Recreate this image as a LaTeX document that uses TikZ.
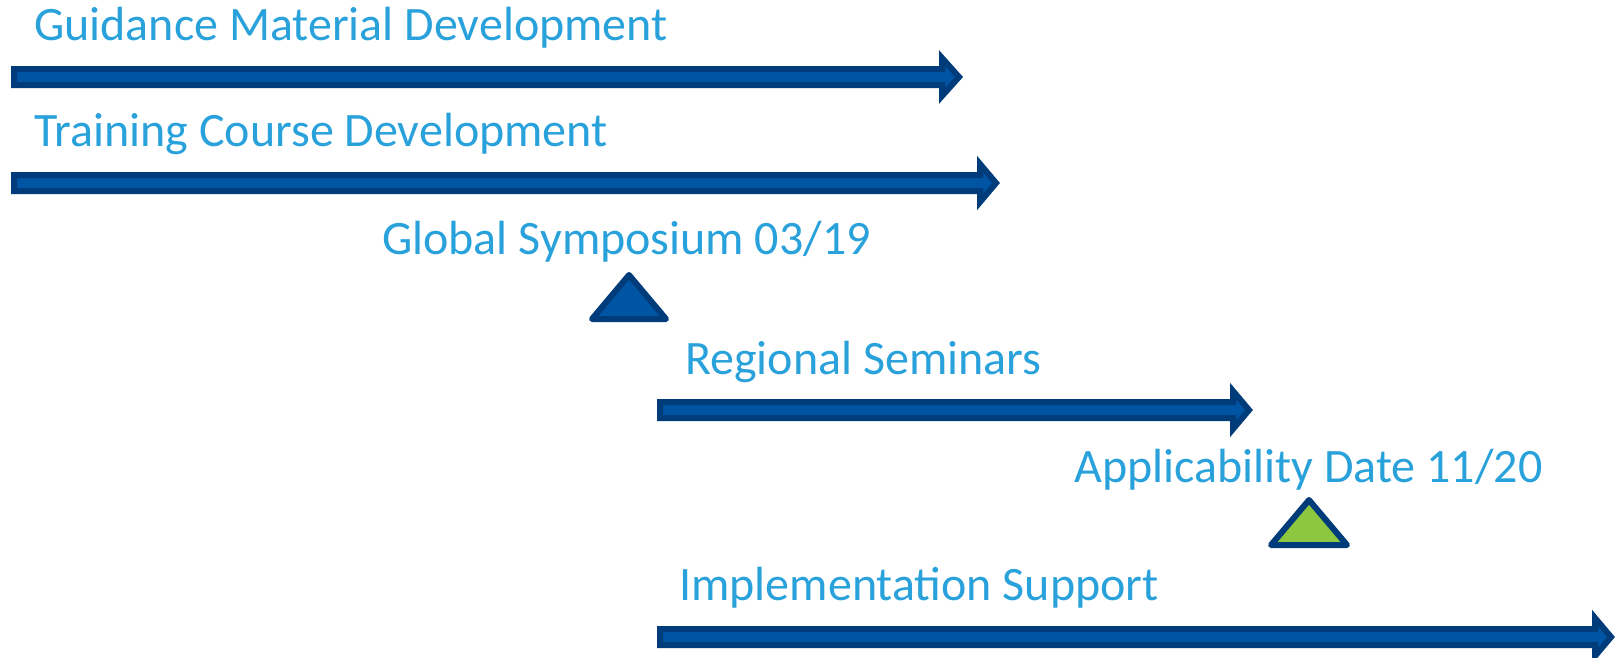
\documentclass[tikz,border=0pt]{standalone}
\usepackage{fontspec}
\setmainfont{Carlito}
\definecolor{lbl}{HTML}{29A1DB}
\definecolor{arrfill}{HTML}{0054A4}
\definecolor{arrline}{HTML}{003B7A}
\definecolor{grn}{HTML}{8DC63F}
\tikzset{
  lbltext/.style={text=lbl, inner sep=0pt, anchor=base west, font=\fontsize{48}{56}\selectfont},
  blockarrow/.style={fill=arrfill, draw=arrline, line width=6pt, line join=miter},
  milestone/.style={draw=arrline, line width=6pt, line join=round}
}
\begin{document}
\begin{tikzpicture}[x=1pt,y=-1pt]
\useasboundingbox (0,0) rectangle (1619,657);
% labels
\node[lbltext] (t1) at (34,40) {Guidance Material Development};
\node[lbltext] (t2) at (34,146) {Training Course Development};
\node[lbltext] (t3) at (382,254) {Global Symposium 03/19};
\node[lbltext] (t4) at (685,374) {Regional Seminars};
\node[lbltext] (t5) at (1074,482) {Applicability Date 11/20};
\node[lbltext] (t6) at (679,600) {Implementation Support};
% block arrows
\draw[blockarrow] (14,69) -- (942,69) -- (942,58) -- (959,77) -- (942,96) -- (942,85) -- (14,85) -- cycle;
\draw[blockarrow] (14,175) -- (980,175) -- (980,164) -- (996,183) -- (980,202) -- (980,191) -- (14,191) -- cycle;
\draw[blockarrow] (660,402) -- (1233,402) -- (1233,391) -- (1249,410) -- (1233,429) -- (1233,418) -- (660,418) -- cycle;
\draw[blockarrow] (660,629) -- (1595,629) -- (1595,618) -- (1611,637) -- (1595,656) -- (1595,645) -- (660,645) -- cycle;
% milestones
\draw[milestone, fill=arrfill] (629,275) -- (666,319) -- (592,319) -- cycle;
\draw[milestone, fill=grn] (1309,500) -- (1347,545) -- (1271,545) -- cycle;
\end{tikzpicture}
\end{document}
